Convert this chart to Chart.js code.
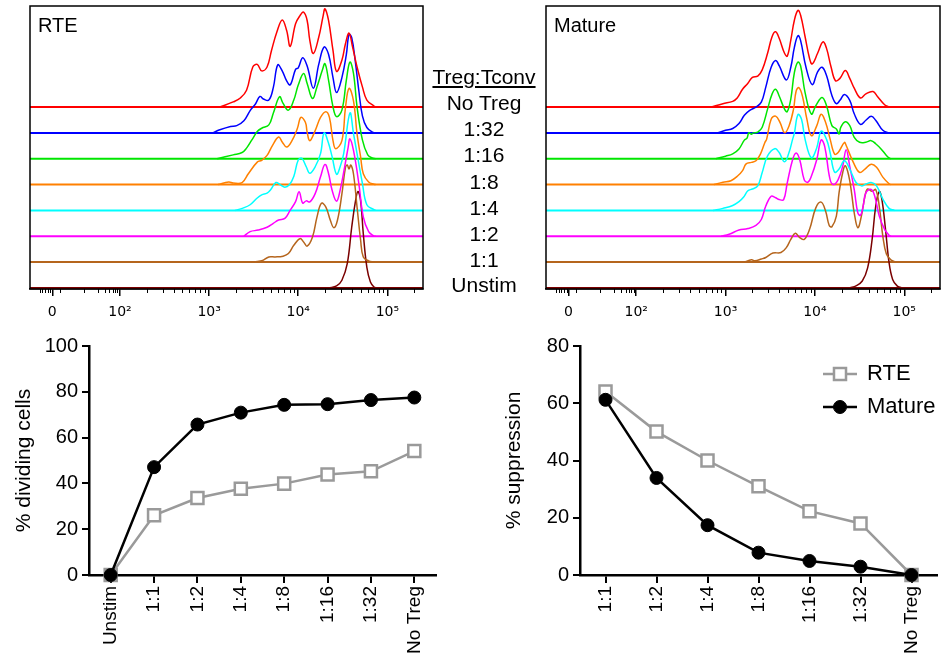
<!DOCTYPE html>
<html>
<head>
<meta charset="utf-8">
<title>RTE vs Mature Treg suppression</title>
<script src="https://cdn.jsdelivr.net/npm/chart.js@4.4.1/dist/chart.umd.min.js"></script>
<style>
    body { margin: 0; background: #fff; font-family: 'Liberation Sans', Arial, sans-serif; }
    #wrap { position: relative; width: 948px; height: 663px; overflow: hidden; }
    canvas { position: absolute; }
    .mid { position: absolute; left: 409px; width: 150px; height: 24px; line-height: 24px;
           text-align: center; font-size: 21px; color: #000; }
    .mid.head { text-decoration: underline; text-underline-offset: 2px; }
</style>
</head>
<body>
<div id="wrap">
    <canvas id="rteHist" width="430" height="330" style="left:0;top:0"></canvas>
    <canvas id="matureHist" width="408" height="330" style="left:540px;top:0"></canvas>
    <canvas id="dividingChart" width="460" height="333" style="left:0;top:330px"></canvas>
    <canvas id="suppressionChart" width="468" height="333" style="left:480px;top:330px"></canvas>
    <div id="midLabels"></div>
</div>
<script>
// ---- histogram data: [log10 intensity, height in lane units] ----
const seriesNames = ['No Treg', '1:32', '1:16', '1:8', '1:4', '1:2', '1:1', 'Unstim'];
const histColors = ['#ff0000', '#0000ff', '#00e600', '#ff8000', '#00ffff', '#ff00ff', '#b5651d', '#7a0000'];
const laneOffsets = [7, 6, 5, 4, 3, 2, 1, 0];

const rteNoTreg = [[3.12,0],[3.27,0.20],[3.35,0.35],[3.42,0.65],[3.49,1.55],[3.54,1.65],[3.59,1.40],[3.65,1.55],[3.70,2.19],[3.76,2.90],[3.82,3.37],[3.87,2.96],[3.91,2.35],[3.97,3.22],[4.02,3.54],[4.06,3.67],[4.10,3.35],[4.13,2.58],[4.17,2.07],[4.23,2.70],[4.28,3.54],[4.30,3.80],[4.34,3.35],[4.39,2.19],[4.43,1.38],[4.49,1.81],[4.53,2.45],[4.57,2.86],[4.61,2.32],[4.66,1.55],[4.72,0.78],[4.77,0.27],[4.85,0.04],[4.87,0]];
const rte132 = [[3.04,0],[3.12,0.12],[3.24,0.25],[3.31,0.28],[3.39,0.47],[3.46,0.86],[3.52,1.12],[3.57,1.41],[3.61,1.31],[3.67,1.27],[3.72,1.75],[3.77,2.63],[3.82,2.40],[3.87,2.01],[3.91,1.86],[3.97,2.46],[4.00,2.52],[4.05,2.91],[4.10,2.59],[4.17,1.73],[4.23,2.65],[4.29,3.32],[4.34,3.04],[4.39,2.14],[4.43,1.56],[4.49,2.14],[4.54,3.04],[4.57,3.81],[4.60,3.68],[4.64,2.78],[4.68,1.63],[4.72,0.66],[4.77,0.21],[4.84,0.02],[4.87,0]];
const rte116 = [[3.09,0],[3.27,0.15],[3.37,0.24],[3.42,0.41],[3.48,0.73],[3.54,1.05],[3.59,1.18],[3.67,1.31],[3.72,1.76],[3.79,2.40],[3.83,2.14],[3.89,1.88],[3.95,2.27],[4.00,2.85],[4.06,3.30],[4.10,2.91],[4.16,2.33],[4.21,2.78],[4.27,3.42],[4.30,3.68],[4.34,3.04],[4.39,2.01],[4.43,1.63],[4.49,1.88],[4.54,3.04],[4.58,3.74],[4.62,3.30],[4.66,2.01],[4.72,0.73],[4.78,0.15],[4.83,0.03],[4.87,0]];
const rte18 = [[3.10,0],[3.22,0.10],[3.27,0.06],[3.37,0.08],[3.44,0.42],[3.54,0.87],[3.59,0.94],[3.65,1.13],[3.71,1.51],[3.78,1.84],[3.82,1.65],[3.87,1.45],[3.93,1.70],[3.99,2.17],[4.03,2.60],[4.08,2.41],[4.10,2.03],[4.13,1.70],[4.19,2.09],[4.25,2.60],[4.31,2.82],[4.35,2.60],[4.39,1.70],[4.42,1.39],[4.49,1.70],[4.53,2.98],[4.57,3.72],[4.62,3.24],[4.66,1.96],[4.70,1.07],[4.73,0.42],[4.79,0.10],[4.85,0.01],[4.87,0]];
const rte14 = [[3.29,0],[3.38,0.09],[3.46,0.22],[3.54,0.48],[3.59,0.60],[3.65,0.67],[3.69,0.80],[3.75,1.08],[3.80,0.99],[3.85,0.90],[3.90,0.99],[3.95,1.31],[4.00,1.95],[4.04,2.02],[4.09,1.69],[4.13,1.44],[4.19,1.69],[4.25,2.20],[4.29,3.00],[4.34,2.60],[4.38,2.08],[4.43,1.40],[4.47,1.69],[4.51,2.20],[4.58,3.77],[4.62,2.98],[4.66,2.20],[4.72,1.05],[4.77,0.22],[4.85,0.03],[4.87,0]];
const rte12 = [[3.39,0],[3.46,0.18],[3.55,0.24],[3.65,0.35],[3.72,0.50],[3.78,0.63],[3.85,0.69],[3.91,1.01],[3.97,1.34],[4.01,1.72],[4.05,1.29],[4.09,1.37],[4.13,1.33],[4.19,1.65],[4.25,2.30],[4.30,2.78],[4.34,2.43],[4.38,1.78],[4.43,1.36],[4.47,1.78],[4.52,2.67],[4.56,3.44],[4.58,3.77],[4.62,3.32],[4.68,2.04],[4.73,0.75],[4.79,0.18],[4.85,0.01],[4.87,0]];
const rte11 = [[3.48,0],[3.59,0.05],[3.67,0.20],[3.74,0.20],[3.83,0.23],[3.89,0.33],[3.95,0.65],[4.02,0.91],[4.06,0.78],[4.10,0.62],[4.16,0.97],[4.21,1.74],[4.26,2.28],[4.31,2.13],[4.36,1.62],[4.40,1.33],[4.44,1.62],[4.49,2.64],[4.53,3.67],[4.55,3.76],[4.57,3.60],[4.59,3.76],[4.62,3.41],[4.66,2.13],[4.70,0.85],[4.73,0.20],[4.79,0.05],[4.85,0]];
const rteUnstim = [[4.34,0],[4.43,0.08],[4.49,0.30],[4.55,0.94],[4.60,2.35],[4.64,3.31],[4.67,3.73],[4.70,3.37],[4.73,2.10],[4.77,0.80],[4.81,0.23],[4.85,0.04],[4.88,0]];

const matNoTreg = [[2.84,0],[2.97,0.13],[3.08,0.22],[3.13,0.35],[3.19,0.69],[3.25,0.92],[3.30,1.15],[3.36,1.20],[3.41,1.44],[3.47,2.08],[3.52,2.72],[3.56,2.91],[3.60,2.66],[3.66,2.08],[3.69,1.97],[3.73,2.59],[3.77,3.36],[3.81,3.74],[3.84,3.55],[3.89,2.72],[3.94,1.88],[3.97,1.67],[4.03,2.08],[4.09,2.52],[4.13,2.27],[4.18,1.56],[4.23,1.02],[4.28,1.11],[4.34,1.41],[4.39,1.11],[4.44,0.73],[4.51,0.35],[4.57,0.51],[4.65,0.60],[4.70,0.41],[4.78,0.09],[4.83,0]];
const mat132 = [[2.91,0],[3.00,0.10],[3.08,0.17],[3.15,0.36],[3.21,0.68],[3.27,0.87],[3.34,1.00],[3.40,1.19],[3.45,1.77],[3.51,2.54],[3.56,2.80],[3.60,2.60],[3.68,2.05],[3.73,2.54],[3.77,3.31],[3.81,3.76],[3.84,3.57],[3.90,2.54],[3.97,1.87],[4.03,2.36],[4.08,2.54],[4.13,2.22],[4.19,1.45],[4.24,1.13],[4.28,1.26],[4.33,1.49],[4.39,1.26],[4.44,0.74],[4.51,0.33],[4.57,0.49],[4.63,0.64],[4.68,0.49],[4.76,0.10],[4.83,0]];
const mat116 = [[2.89,0],[3.00,0.10],[3.08,0.19],[3.15,0.38],[3.21,0.72],[3.24,0.80],[3.26,1.00],[3.29,0.95],[3.31,1.00],[3.36,1.03],[3.41,1.22],[3.47,1.92],[3.52,2.50],[3.56,2.69],[3.60,2.43],[3.66,1.92],[3.69,1.82],[3.73,2.31],[3.77,3.33],[3.81,3.74],[3.84,3.59],[3.89,2.56],[3.96,1.73],[4.01,2.05],[4.08,2.37],[4.13,2.05],[4.19,1.28],[4.24,1.15],[4.27,0.96],[4.29,1.22],[4.34,1.43],[4.39,1.28],[4.44,0.83],[4.50,0.64],[4.57,0.64],[4.63,0.70],[4.68,0.58],[4.74,0.38],[4.80,0.13],[4.83,0.03],[4.85,0]];
const mat18 = [[2.87,0],[2.97,0.09],[3.06,0.15],[3.14,0.35],[3.19,0.54],[3.23,0.80],[3.29,0.86],[3.34,0.92],[3.39,1.18],[3.44,1.63],[3.46,1.76],[3.51,2.53],[3.56,2.65],[3.61,2.40],[3.66,2.01],[3.71,2.27],[3.76,2.91],[3.79,3.62],[3.82,3.75],[3.86,3.43],[3.91,2.53],[3.96,1.89],[4.02,2.27],[4.07,2.72],[4.12,2.40],[4.17,1.76],[4.22,1.18],[4.26,1.24],[4.33,1.63],[4.35,1.51],[4.43,0.86],[4.50,0.47],[4.56,0.60],[4.63,0.79],[4.69,0.67],[4.76,0.29],[4.83,0.03],[4.85,0]];
const mat14 = [[2.86,0],[2.97,0.08],[3.08,0.19],[3.15,0.34],[3.20,0.51],[3.25,0.76],[3.30,0.83],[3.36,0.95],[3.41,1.47],[3.47,2.11],[3.55,2.39],[3.60,2.24],[3.66,1.88],[3.71,2.24],[3.75,2.75],[3.77,2.99],[3.81,3.71],[3.85,3.53],[3.89,2.75],[3.96,2.04],[4.02,2.42],[4.07,3.07],[4.13,2.75],[4.17,2.24],[4.22,1.48],[4.27,1.60],[4.33,1.92],[4.39,1.60],[4.46,1.08],[4.52,0.95],[4.57,1.02],[4.63,1.08],[4.69,0.95],[4.76,0.44],[4.83,0.08],[4.89,0]];
const mat12 = [[2.95,0],[3.04,0.08],[3.15,0.24],[3.25,0.30],[3.34,0.42],[3.40,0.65],[3.45,1.17],[3.51,1.55],[3.56,1.49],[3.60,1.42],[3.65,1.42],[3.69,2.06],[3.75,2.96],[3.79,3.22],[3.83,2.96],[3.88,2.19],[3.92,2.09],[3.96,2.32],[4.02,2.96],[4.07,3.73],[4.11,3.47],[4.17,2.19],[4.21,2.00],[4.26,2.19],[4.31,2.70],[4.35,3.35],[4.39,2.70],[4.44,1.81],[4.48,0.91],[4.51,0.81],[4.54,1.17],[4.57,1.68],[4.63,1.81],[4.67,1.55],[4.72,0.78],[4.78,0.27],[4.83,0.04],[4.85,0]];
const mat11 = [[3.21,0],[3.29,0.09],[3.33,0.05],[3.40,0.12],[3.45,0.18],[3.53,0.35],[3.62,0.37],[3.68,0.56],[3.73,0.88],[3.78,1.12],[3.83,0.95],[3.88,0.88],[3.94,1.27],[4.01,2.10],[4.07,2.32],[4.12,1.97],[4.16,1.42],[4.19,1.37],[4.24,1.78],[4.27,2.68],[4.31,3.45],[4.34,3.73],[4.38,3.32],[4.41,2.68],[4.44,1.91],[4.48,1.33],[4.52,1.78],[4.56,2.55],[4.59,2.83],[4.64,2.74],[4.68,2.81],[4.72,2.17],[4.76,1.01],[4.80,0.31],[4.85,0.09],[4.91,0]];
const matUnstim = [[4.39,0],[4.46,0.08],[4.53,0.27],[4.59,0.78],[4.64,1.87],[4.68,3.15],[4.72,3.73],[4.75,3.42],[4.79,2.27],[4.83,0.98],[4.87,0.33],[4.92,0.08],[4.97,0]];

// histogram axis (logicle-like, in decades)
const histTickValues = [1.24, 2, 3, 4, 5];
const histTickLabels = ['0', '10\u00b2', '10\u00b3', '10\u2074', '10\u2075'];
const histNearZeroTicks = [1.10, 1.13, 1.16, 1.19, 1.22, 1.33, 1.60, 1.75, 1.83, 1.88, 1.92, 1.94, 1.97];

// ---- line chart data ----
const dividingLabels = ['Unstim', '1:1', '1:2', '1:4', '1:8', '1:16', '1:32', 'No Treg'];
const dividingRTE = [0, 26.1, 33.6, 37.7, 39.9, 43.9, 45.3, 54.1];
const dividingMature = [0, 47.1, 65.7, 70.9, 74.3, 74.6, 76.4, 77.5];

const suppressionLabels = ['1:1', '1:2', '1:4', '1:8', '1:16', '1:32', 'No Treg'];
const suppressionRTE = [64.1, 50.1, 40.0, 31.0, 22.3, 18.0, 0];
const suppressionMature = [61.2, 33.9, 17.4, 7.8, 4.9, 2.9, 0];

const FONT = "'Liberation Sans', Arial, sans-serif";
const GREY = '#9a9a9a';
Chart.defaults.font.family = FONT;
Chart.defaults.color = '#000';

// Box round the plot area plus the panel name in the corner
const framePlugin = {
    id: 'frame',
    afterDraw(chart, args, opts) {
        const { ctx, chartArea: a } = chart;
        ctx.save();
        ctx.strokeStyle = '#000';
        ctx.lineWidth = 1.5;
        ctx.strokeRect(a.left, a.top, a.right - a.left, a.bottom - a.top);
        ctx.fillStyle = '#000';
        ctx.font = '20px ' + FONT;
        ctx.textBaseline = 'alphabetic';
        ctx.fillText(opts.title, a.left + 8, a.top + 26);
        ctx.restore();
    }
};

// Short minor ticks under the histogram axis
const minorTickPlugin = {
    id: 'minorTicks',
    afterDraw(chart, args, opts) {
        const s = chart.scales.x;
        const ctx = chart.ctx;
        const y0 = chart.chartArea.bottom;
        const values = histNearZeroTicks.slice();
        for (let n = 2; n <= 5; n++) {
            for (let k = 2; k <= 9; k++) {
                const v = n + Math.log10(k);
                if (v < s.max) values.push(v);
            }
        }
        ctx.save();
        ctx.strokeStyle = '#000';
        ctx.lineWidth = 1;
        values.forEach(v => {
            const px = Math.round(s.getPixelForValue(v)) + 0.5;
            ctx.beginPath();
            ctx.moveTo(px, y0);
            ctx.lineTo(px, y0 + opts.len);
            ctx.stroke();
        });
        ctx.restore();
    }
};

// Legend drawn as line + marker, like the original
const lineLegendPlugin = {
    id: 'lineLegend',
    afterDraw(chart, args, opts) {
        const ctx = chart.ctx;
        chart.data.datasets.forEach((ds, i) => {
            const y = opts.y + i * opts.gap;
            ctx.save();
            ctx.strokeStyle = ds.borderColor;
            ctx.lineWidth = ds.borderWidth;
            ctx.beginPath();
            ctx.moveTo(opts.x, y);
            ctx.lineTo(opts.x + opts.len, y);
            ctx.stroke();
            ctx.fillStyle = ds.pointBackgroundColor;
            ctx.strokeStyle = ds.pointBorderColor;
            ctx.lineWidth = ds.pointBorderWidth;
            Chart.helpers.drawPoint(ctx, {
                pointStyle: ds.pointStyle, radius: ds.pointRadius,
                borderWidth: ds.pointBorderWidth, rotation: 0
            }, opts.x + opts.len / 2, y);
            ctx.fillStyle = '#000';
            ctx.font = '22px ' + FONT;
            ctx.textBaseline = 'middle';
            ctx.fillText(ds.label, opts.x + opts.len + 10, y);
            ctx.restore();
        });
    }
};

function histDatasets(curves) {
    const sets = [];
    curves.forEach((pts, i) => {
        const off = laneOffsets[i];
        sets.push({
            label: seriesNames[i],
            data: pts.map(p => ({ x: p[0], y: off + p[1] })),
            borderColor: histColors[i],
            borderWidth: 1.5,
            pointRadius: 0,
            tension: 0.4,
            fill: false,
            order: 1
        });
        // flat baseline of each lane across the whole plot
        sets.push({
            data: [{ x: 0.99, y: off }, { x: 5.40, y: off }],
            borderColor: histColors[i],
            borderWidth: 2,
            pointRadius: 0,
            order: 2
        });
    });
    return sets;
}

function renderHistogram(canvasId, curves, title, padLeft, padRight) {
    const ctx = document.getElementById(canvasId).getContext('2d');
    return new Chart(ctx, {
        type: 'line',
        data: { datasets: histDatasets(curves) },
        plugins: [framePlugin, minorTickPlugin],
        options: {
            responsive: false,
            animation: false,
            layout: { padding: { left: padLeft, right: padRight, top: 6, bottom: 0 } },
            plugins: {
                legend: { display: false },
                tooltip: { enabled: false },
                frame: { title: title },
                minorTicks: { len: 4 }
            },
            scales: {
                x: {
                    type: 'linear',
                    min: 0.99,
                    max: 5.40,
                    afterBuildTicks: s => { s.ticks = histTickValues.map(v => ({ value: v })); },
                    afterFit: s => { s.height = 41; },
                    ticks: {
                        autoSkip: false,
                        maxRotation: 0,
                        padding: 8,
                        font: { family: "'DejaVu Sans', sans-serif", size: 14 },
                        callback: (v, i) => histTickLabels[i]
                    },
                    grid: { display: true, drawOnChartArea: false, drawTicks: true, tickLength: 7, color: '#000', lineWidth: 1.5 },
                    border: { display: true, color: '#000', width: 1.5 }
                },
                y: { display: false, min: -0.04, max: 10.91 }
            }
        }
    });
}

function lineDataset(label, values, color, style) {
    const square = style === 'rect';
    return {
        label: label,
        data: values,
        borderColor: color,
        borderWidth: 2.5,
        pointStyle: style,
        pointRadius: square ? 8.5 : 6.5,
        pointBackgroundColor: square ? '#fff' : color,
        pointBorderColor: color,
        pointBorderWidth: square ? 2.5 : 1,
        tension: 0,
        clip: false,
        order: square ? 2 : 1
    };
}

function renderLineChart(canvasId, labels, rte, mature, cfg) {
    const ctx = document.getElementById(canvasId).getContext('2d');
    return new Chart(ctx, {
        type: 'line',
        data: {
            labels: labels,
            datasets: [
                lineDataset('RTE', rte, GREY, 'rect'),
                lineDataset('Mature', mature, '#000', 'circle')
            ]
        },
        plugins: cfg.legend ? [lineLegendPlugin] : [],
        options: {
            responsive: false,
            animation: false,
            layout: { padding: { left: 0, right: cfg.padRight, top: 15, bottom: 0 } },
            plugins: {
                legend: { display: false },
                tooltip: { enabled: false },
                lineLegend: cfg.legend || {}
            },
            scales: {
                x: {
                    type: 'category',
                    offset: true,
                    afterFit: s => { s.height = 88; },
                    ticks: { minRotation: 90, maxRotation: 90, autoSkip: false, padding: 3, font: { size: 19 } },
                    grid: { display: true, drawOnChartArea: false, drawTicks: true, tickLength: 8, color: '#000', lineWidth: 2 },
                    border: { display: true, color: '#000', width: 2.5 }
                },
                y: {
                    min: 0,
                    max: cfg.yMax,
                    afterFit: s => { s.width = cfg.yWidth; },
                    ticks: { stepSize: 20, padding: 4, font: { size: 20 } },
                    title: { display: true, text: cfg.yTitle, font: { size: 21 }, padding: { top: cfg.titlePad, bottom: 0 } },
                    grid: { display: true, drawOnChartArea: false, drawTicks: true, tickLength: 7, color: '#000', lineWidth: 2 },
                    border: { display: true, color: '#000', width: 2.5 }
                }
            }
        }
    });
}

// Ratio labels between the two histogram panels
function renderMidLabels() {
    const box = document.getElementById('midLabels');
    const tops = [65, 91, 117, 143, 170, 196, 222, 248, 273];
    ['Treg:Tconv'].concat(seriesNames).forEach((txt, i) => {
        const d = document.createElement('div');
        d.className = 'mid' + (i === 0 ? ' head' : '');
        d.style.top = tops[i] + 'px';
        d.textContent = txt;
        box.appendChild(d);
    });
}

renderMidLabels();
renderHistogram('rteHist', [rteNoTreg, rte132, rte116, rte18, rte14, rte12, rte11, rteUnstim], 'RTE', 30, 7);
renderHistogram('matureHist', [matNoTreg, mat132, mat116, mat18, mat14, mat12, mat11, matUnstim], 'Mature', 6, 8);
renderLineChart('dividingChart', dividingLabels, dividingRTE, dividingMature, {
    padRight: 24, yMax: 100, yWidth: 89, yTitle: '% dividing cells', titlePad: 12
});
renderLineChart('suppressionChart', suppressionLabels, suppressionRTE, suppressionMature, {
    padRight: 8, yMax: 80, yWidth: 100, yTitle: '% suppression', titlePad: 22,
    legend: { x: 343, y: 44, gap: 33, len: 34 }
});
</script>
</body>
</html>
